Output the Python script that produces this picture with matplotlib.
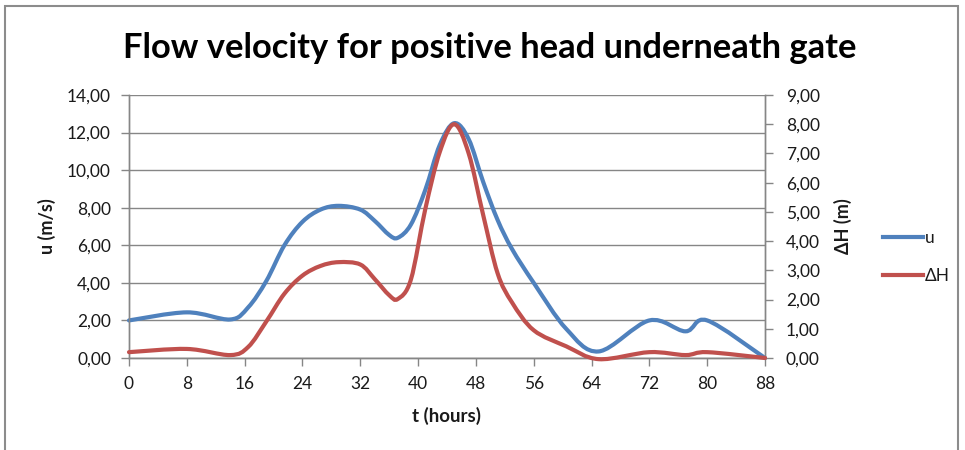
import numpy as np
import matplotlib
matplotlib.use('Agg')
import matplotlib.pyplot as plt
from matplotlib.path import Path
from matplotlib.patches import PathPatch, Rectangle
from matplotlib.lines import Line2D
from matplotlib.ticker import FuncFormatter

plt.rcParams['font.family'] = ['Lato', 'DejaVu Sans']

# ---- data ----
t_hours = [0, 8, 14, 16.5, 19, 21.5, 24, 26.5, 29, 32, 34, 36, 37.2, 39, 41, 43, 45,
           47, 49, 51, 53, 56, 60.5, 65, 72, 77, 80, 88]
u_ms = [2.0, 2.43, 2.05, 2.7, 4.1, 6.0, 7.25, 7.9, 8.1, 7.9, 7.3, 6.55, 6.4, 7.1, 8.95, 11.34, 12.5,
        11.65, 9.38, 7.35, 5.8, 4.0, 1.55, 0.35, 2.0, 1.42, 2.0, 0.0]
dH_m = [0.2, 0.31, 0.1, 0.38, 1.25, 2.2, 2.82, 3.15, 3.28, 3.2, 2.7, 2.15, 2.02, 2.68, 5.1, 7.05, 8.0,
        7.0, 4.9, 2.9, 1.9, 0.95, 0.4, -0.04, 0.2, 0.1, 0.2, 0.0]
x_ticks = list(range(0, 89, 8))
u_ticks = list(range(0, 15, 2))
dH_ticks = list(range(0, 10, 1))
title = 'Flow velocity for positive head underneath gate'
series_names = ['u', 'ΔH']

BLUE = '#4F81BD'
RED = '#C0504D'
GRID = '#868686'
TXT = '#1a1a1a'


def smooth_path(x, y):
    """Excel-style smoothed line: cubic Bezier through the data points."""
    P = np.column_stack([x, y]).astype(float)
    n = len(P)
    verts = [P[0]]
    codes = [Path.MOVETO]
    for i in range(n - 1):
        p0 = P[i - 1] if i > 0 else P[i]
        p1 = P[i]
        p2 = P[i + 1]
        p3 = P[i + 2] if i + 2 < n else P[i + 1]
        c1 = p1 + (p2 - p0) / 6.0
        c2 = p2 - (p3 - p1) / 6.0
        verts += [c1, c2, p2]
        codes += [Path.CURVE4] * 3
    return Path(verts, codes)


fig = plt.figure(figsize=(9.65, 4.5), dpi=100)
ax = fig.add_axes([129 / 965, (450 - 358) / 450, 636 / 965, 263 / 450])
ax2 = ax.twinx()

ax.set_xlim(0, 88)
ax.set_ylim(0, 14)
ax2.set_ylim(0, 9)

ax.set_xticks(x_ticks)
ax.set_yticks(u_ticks)
ax2.set_yticks(dH_ticks)

fmt = FuncFormatter(lambda v, p: f'{v:.2f}'.replace('.', ','))
ax.yaxis.set_major_formatter(fmt)
ax2.yaxis.set_major_formatter(fmt)

ax.yaxis.grid(True, color=GRID, lw=1.0)
ax.set_axisbelow(True)

for a in (ax, ax2):
    for s in a.spines.values():
        s.set_color(GRID)
        s.set_linewidth(1.0)
    a.spines['top'].set_visible(False)

ax.tick_params(axis='both', direction='out', length=6, width=1, color=GRID,
               labelsize=12.5, labelcolor=TXT)
ax.tick_params(axis='y', pad=7)
ax.tick_params(axis='x', pad=7)
ax2.tick_params(axis='y', direction='out', length=6, width=1, color=GRID,
                labelsize=12.5, labelcolor=TXT, pad=9)

ax.add_patch(PathPatch(smooth_path(t_hours, u_ms), facecolor='none',
                       edgecolor=BLUE, lw=3.0, clip_on=False, zorder=3,
                       capstyle='round', joinstyle='round'))
ax2.add_patch(PathPatch(smooth_path(t_hours, dH_m), facecolor='none',
                        edgecolor=RED, lw=3.0, clip_on=False, zorder=3,
                        capstyle='round', joinstyle='round'))

ax.set_xlabel('t (hours)', fontsize=13.5, fontweight='bold', color=TXT, labelpad=11)
ax.set_ylabel('u (m/s)', fontsize=13, fontweight='bold', color=TXT, labelpad=8)
ax2.set_ylabel('ΔH (m)', fontsize=13, fontweight='bold', color=TXT, labelpad=10)

fig.text(0.508, 1 - 48 / 450, title, ha='center', va='center',
         fontsize=24.8, fontweight='bold', color='black')

handles = [Line2D([], [], color=BLUE, lw=3.0), Line2D([], [], color=RED, lw=3.0)]
fig.legend(handles, series_names, loc='center left',
           bbox_to_anchor=(874 / 965, 1 - 257 / 450), frameon=False,
           fontsize=12.5, handlelength=2.3, handletextpad=0.15,
           labelspacing=1.3, borderpad=0, labelcolor=TXT)

fig.add_artist(Rectangle((5 / 965, -0.05), 953 / 965, 1.05 - 6 / 450,
                         transform=fig.transFigure, fill=False,
                         edgecolor='#8c8c8c', lw=1.5))

fig.savefig('out.png', dpi=100)
